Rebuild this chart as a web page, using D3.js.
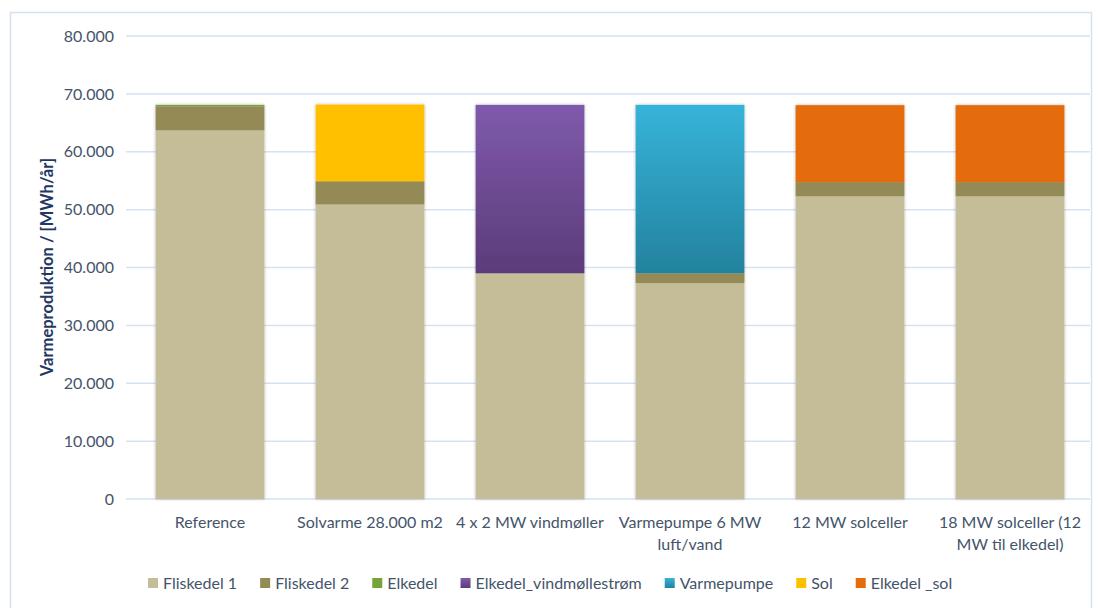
<!DOCTYPE html>
<html>
<head>
<meta charset="utf-8">
<script src="https://cdnjs.cloudflare.com/ajax/libs/d3/7.8.5/d3.min.js"></script>
<style>
  body { margin: 0; background: #fff; }
  text { font-family: Lato, "Open Sans", sans-serif; }
</style>
</head>
<body>
<div class="chart"></div>
<script>
var categories = ["Reference", "Solvarme 28.000 m2", "4 x 2 MW vindmøller", "Varmepumpe 6 MW luft/vand", "12 MW solceller", "18 MW solceller (12 MW til elkedel)"];
var categoryLines = [["Reference"], ["Solvarme 28.000 m2"], ["4 x 2 MW vindmøller"], ["Varmepumpe 6 MW", "luft/vand"], ["12 MW solceller"], ["18 MW solceller (12", "MW til elkedel)"]];
var seriesNames = ["Fliskedel 1", "Fliskedel 2", "Elkedel", "Elkedel_vindmøllestrøm", "Varmepumpe", "Sol", "Elkedel _sol"];
var fliskedel1 = [63700, 50900, 39000, 37300, 52300, 52300];
var fliskedel2 = [4150, 4000, 0, 1700, 2450, 2450];
var elkedel = [250, 0, 0, 0, 0, 0];
var elkedelVind = [0, 0, 29100, 0, 0, 0];
var varmepumpe = [0, 0, 0, 29100, 0, 0];
var sol = [0, 13250, 0, 0, 0, 0];
var elkedelSol = [0, 0, 0, 0, 13300, 13300];
var yTicks = [0, 10000, 20000, 30000, 40000, 50000, 60000, 70000, 80000];

var seriesValues = [fliskedel1, fliskedel2, elkedel, elkedelVind, varmepumpe, sol, elkedelSol];
var colors = ["#c4bd97", "#948a54", "#77a43a", "url(#gradPurple)", "url(#gradTeal)", "#ffc000", "#e46c0a"];
var legendColors = ["#c4bd97", "#948a54", "#77a43a", "url(#gradPurple)", "url(#gradTeal)", "#ffc000", "#e46c0a"];

var width = 1104, height = 608;
var plot = {left: 130, right: 1090, top: 36, bottom: 499};

var svg = d3.select(".chart").append("svg")
  .attr("width", width)
  .attr("height", height);

var defs = svg.append("defs");
function grad(id, c1, c2) {
  var g = defs.append("linearGradient").attr("id", id).attr("x1", 0).attr("y1", 0).attr("x2", 0).attr("y2", 1);
  g.append("stop").attr("offset", "0%").attr("stop-color", c1);
  g.append("stop").attr("offset", "100%").attr("stop-color", c2);
}
grad("gradPurple", "#7f5aac", "#5c3b79");
grad("gradTeal", "#36b4d9", "#23829e");
var f = defs.append("filter").attr("id", "shadow").attr("x", "-10%").attr("y", "-10%").attr("width", "120%").attr("height", "120%");
f.append("feDropShadow").attr("dx", 0).attr("dy", 0).attr("stdDeviation", 1.6)
  .attr("flood-color", "#000").attr("flood-opacity", 0.28);

// frame
svg.append("rect")
  .attr("x", 10.5).attr("y", 12.5)
  .attr("width", 1081).attr("height", 620)
  .attr("fill", "none")
  .attr("stroke", "#d5e1ef")
  .attr("stroke-width", 1.5);

var x = d3.scaleBand()
  .domain(categories)
  .range([plot.left, plot.right])
  .paddingInner(0.32)
  .paddingOuter(0.16);

var y = d3.scaleLinear()
  .domain([0, 80000])
  .range([plot.bottom, plot.top]);

var fmt = function(d) { return d3.format(",")(d).replace(/,/g, "."); };

// grid
svg.append("g").selectAll("line")
  .data(yTicks)
  .enter().append("line")
    .attr("x1", plot.left - 4).attr("x2", plot.right)
    .attr("y1", function(d) { return y(d); })
    .attr("y2", function(d) { return y(d); })
    .attr("stroke", "#d6e1f1")
    .attr("stroke-width", 1.5);

var yAxis = d3.axisLeft(y).tickValues(yTicks).tickFormat(fmt).tickSize(0).tickPadding(16);
var gY = svg.append("g")
  .attr("transform", "translate(" + plot.left + ",0)")
  .call(yAxis);
gY.select(".domain").remove();
gY.selectAll("text")
  .attr("fill", "#44546a")
  .style("font-size", "16px")
  .style("font-family", "Lato, sans-serif");

svg.append("text")
  .attr("transform", "translate(53,267) rotate(-90)")
  .attr("text-anchor", "middle")
  .attr("fill", "#1f3864")
  .style("font-size", "16.5px")
  .style("font-weight", "bold")
  .text("Varmeproduktion / [MWh/år]");

// stacked bars
var rows = categories.map(function(c, i) {
  var r = {category: c};
  seriesNames.forEach(function(s, j) { r[s] = seriesValues[j][i]; });
  return r;
});
var stacked = d3.stack().keys(seriesNames)(rows);

var bars = svg.append("g").attr("filter", "url(#shadow)");
stacked.forEach(function(layer, j) {
  bars.selectAll(".s" + j)
    .data(layer.filter(function(d) { return d[1] - d[0] > 0; }))
    .enter().append("rect")
      .attr("class", "s" + j)
      .attr("x", function(d) { return x(d.data.category); })
      .attr("width", x.bandwidth())
      .attr("y", function(d) { return y(d[1]); })
      .attr("height", function(d) { return y(d[0]) - y(d[1]); })
      .attr("fill", colors[j]);
});

// category labels
var cat = svg.append("g");
categories.forEach(function(c, i) {
  var t = cat.append("text")
    .attr("x", x(c) + x.bandwidth() / 2)
    .attr("y", 528)
    .attr("text-anchor", "middle")
    .attr("fill", "#44546a")
    .style("font-size", "16px");
  categoryLines[i].forEach(function(l, k) {
    t.append("tspan")
      .attr("x", x(c) + x.bandwidth() / 2)
      .attr("dy", k === 0 ? 0 : 22)
      .text(l);
  });
});

// legend
var legend = svg.append("g").attr("transform", "translate(148,589)");
var lx = 0;
seriesNames.forEach(function(s, j) {
  var item = legend.append("g").attr("transform", "translate(" + lx + ",0)");
  item.append("rect")
    .attr("x", 0).attr("y", -11)
    .attr("width", 10).attr("height", 10)
    .attr("fill", legendColors[j]);
  var t = item.append("text")
    .attr("x", 15).attr("y", 0)
    .attr("fill", "#44546a")
    .style("font-size", "16px")
    .text(s);
  lx += 15 + t.node().getComputedTextLength() + 23;
});
</script>
</body>
</html>
